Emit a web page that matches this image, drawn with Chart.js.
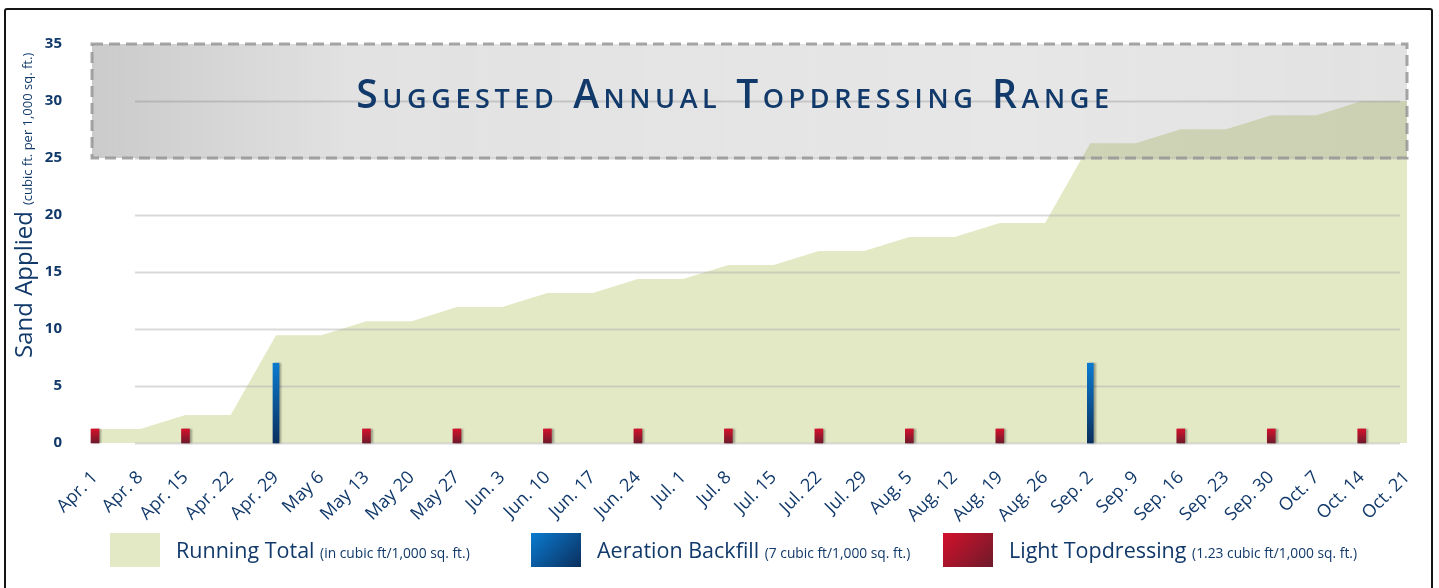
<!DOCTYPE html>
<html>
<head>
<meta charset="utf-8">
<script src="https://cdn.jsdelivr.net/npm/chart.js@4.4.0/dist/chart.umd.min.js"></script>
<style>
  body { margin: 0; background: #fff; font-family: "Open Sans", sans-serif; }
  #wrap { position: relative; width: 1439px; height: 588px; overflow: hidden; }
  #frame { position: absolute; left: 4px; top: 8px; width: 1425px; height: 620px; border: 2px solid #151515; border-radius: 3px; }
  canvas { position: absolute; left: 0; top: 0; }
  #title { position: absolute; left: 0; width: 1470px; top: 66px; text-align: center; color: #11396a;
           font: 600 39px "Open Sans", sans-serif; font-variant: small-caps; letter-spacing: 4.6px; }
  .leg { position: absolute; top: 533px; height: 34px; color: #11396a; white-space: nowrap; }
  .leg .box { position: absolute; left: 0; top: 0; width: 50px; height: 34px; }
  .leg .txt { position: absolute; left: 66px; top: 2px; font-size: 21.5px; }
  .leg .txt small { font-size: 13.8px; }
</style>
</head>
<body>
<div id="wrap">
  <canvas id="c" width="1439" height="588"></canvas>
  <div id="title">Suggested Annual Topdressing Range</div>
  <div id="frame"></div>
  <div class="leg" style="left:110px"><div class="box" style="background:#e4e9c5"></div><div class="txt">Running Total <small>(in cubic ft/1,000 sq. ft.)</small></div></div>
  <div class="leg" style="left:531px"><div class="box" style="background:linear-gradient(135deg,#0a7bd0,#0b2f5e)"></div><div class="txt">Aeration Backfill <small>(7 cubic ft/1,000 sq. ft.)</small></div></div>
  <div class="leg" style="left:943px"><div class="box" style="background:linear-gradient(135deg,#d3112b,#6e1a2b)"></div><div class="txt">Light Topdressing <small>(1.23 cubic ft/1,000 sq. ft.)</small></div></div>
</div>
<script>
const weeks = ['Apr. 1','Apr. 8','Apr. 15','Apr. 22','Apr. 29','May 6','May 13','May 20','May 27','Jun. 3',
  'Jun. 10','Jun. 17','Jun. 24','Jul. 1','Jul. 8','Jul. 15','Jul. 22','Jul. 29','Aug. 5','Aug. 12',
  'Aug. 19','Aug. 26','Sep. 2','Sep. 9','Sep. 16','Sep. 23','Sep. 30','Oct. 7','Oct. 14','Oct. 21'];

const runningTotal = [1.23,1.23,2.46,2.46,9.46,9.46,10.69,10.69,11.92,11.92,
  13.15,13.15,14.38,14.38,15.61,15.61,16.84,16.84,18.07,18.07,
  19.30,19.30,26.30,26.30,27.53,27.53,28.76,28.76,29.99,29.99];

const aeration = [null,null,null,null,7,null,null,null,null,null,
  null,null,null,null,null,null,null,null,null,null,
  null,null,7,null,null,null,null,null,null,null];

const lightTop = [1.23,null,1.23,null,null,null,1.23,null,1.23,null,
  1.23,null,1.23,null,1.23,null,1.23,null,1.23,null,
  1.23,null,null,null,1.23,null,1.23,null,1.23,null];

const yTicks = [0,5,10,15,20,25,30,35];
const rangeLow = 25, rangeHigh = 35;

const navy = '#11396a';

function barGradient(c, top, bottom, topVal) {
  const chart = c.chart;
  if (!chart.chartArea) return top;
  const y = chart.scales.y;
  const g = chart.ctx.createLinearGradient(0, y.getPixelForValue(topVal), 0, y.getPixelForValue(0));
  g.addColorStop(0, top);
  g.addColorStop(1, bottom);
  return g;
}

const decor = {
  id: 'decor',
  beforeDatasetDraw(chart, args) {
    // soft shadow on the bars
    if (args.index === 0) return;
    const ctx = chart.ctx;
    ctx.save();
    ctx.shadowColor = 'rgba(0,0,0,0.35)';
    ctx.shadowOffsetX = 2;
    ctx.shadowBlur = 2;
  },
  afterDatasetDraw(chart, args) {
    if (args.index !== 0) { chart.ctx.restore(); return; }
    const ctx = chart.ctx, y = chart.scales.y, area = chart.chartArea;
    ctx.save();
    // gridlines over the area fill
    ctx.strokeStyle = 'rgba(170,170,170,0.45)';
    ctx.lineWidth = 2;
    yTicks.slice(0, -1).forEach(v => {
      const py = Math.round(y.getPixelForValue(v)) + 0.5;
      ctx.beginPath(); ctx.moveTo(135, py); ctx.lineTo(area.right - 7, py); ctx.stroke();
    });
    // suggested range box
    const top = y.getPixelForValue(rangeHigh), bot = y.getPixelForValue(rangeLow);
    const l = area.left - 3, r = area.right;
    const g = ctx.createLinearGradient(l, 0, r, 0);
    g.addColorStop(0, 'rgba(110,110,110,0.36)');
    g.addColorStop(0.2, 'rgba(110,110,110,0.2)');
    g.addColorStop(0.7, 'rgba(110,110,110,0.17)');
    g.addColorStop(1, 'rgba(110,110,110,0.2)');
    ctx.fillStyle = g;
    ctx.fillRect(l, top, r - l, bot - top);
    ctx.setLineDash([11, 6]);
    ctx.strokeStyle = 'rgba(150,150,150,0.85)';
    ctx.lineWidth = 3;
    ctx.strokeRect(l, top, r - l, bot - top);
    ctx.restore();
  },
  afterDraw(chart) {
    const ctx = chart.ctx;
    ctx.save();
    ctx.translate(32, 358);
    ctx.rotate(-Math.PI / 2);
    ctx.fillStyle = navy;
    ctx.textBaseline = 'alphabetic';
    ctx.textAlign = 'left';
    ctx.font = '24px "Open Sans"';
    ctx.fillText('Sand Applied', 0, 0);
    const w = ctx.measureText('Sand Applied').width + 6;
    ctx.font = '13px "Open Sans"';
    ctx.fillText('(cubic ft. per 1,000 sq. ft.)', w, 0);
    ctx.restore();
  }
};

new Chart(document.getElementById('c'), {
  data: {
    labels: weeks,
    datasets: [
      {
        type: 'line', label: 'Running Total', data: runningTotal, order: 3,
        fill: 'origin', backgroundColor: '#e4e9c5', borderWidth: 0, pointRadius: 0, tension: 0
      },
      {
        type: 'bar', label: 'Aeration Backfill', data: aeration, order: 2, grouped: false,
        barThickness: 6, clip: false,
        backgroundColor: c => barGradient(c, '#0a7bd0', '#0b2f5e', 7)
      },
      {
        type: 'bar', label: 'Light Topdressing', data: lightTop, order: 1, grouped: false,
        barThickness: 8, clip: false,
        backgroundColor: c => barGradient(c, '#d3112b', '#6e1a2b', 1.23)
      }
    ]
  },
  options: {
    responsive: false,
    devicePixelRatio: 1,
    animation: false,
    layout: { padding: { top: 44, right: 32, left: 0, bottom: 0 } },
    plugins: { legend: { display: false }, tooltip: { enabled: false } },
    scales: {
      x: {
        offset: false,
        grid: { display: false },
        border: { display: false },
        ticks: {
          color: navy, font: { family: 'Open Sans', size: 18 },
          minRotation: 45, maxRotation: 45, autoSkip: false, padding: 16
        },
        afterFit(s) { s.height = 145; }
      },
      y: {
        min: 0, max: 35,
        grid: { display: false },
        border: { display: false },
        afterBuildTicks(s) { s.ticks = yTicks.map(v => ({ value: v })); },
        ticks: {
          color: navy, font: { family: 'Open Sans', size: 15, weight: 'bold' }, padding: 25
        },
        afterFit(s) { s.width = 95; }
      }
    }
  },
  plugins: [decor]
});
</script>
</body>
</html>
